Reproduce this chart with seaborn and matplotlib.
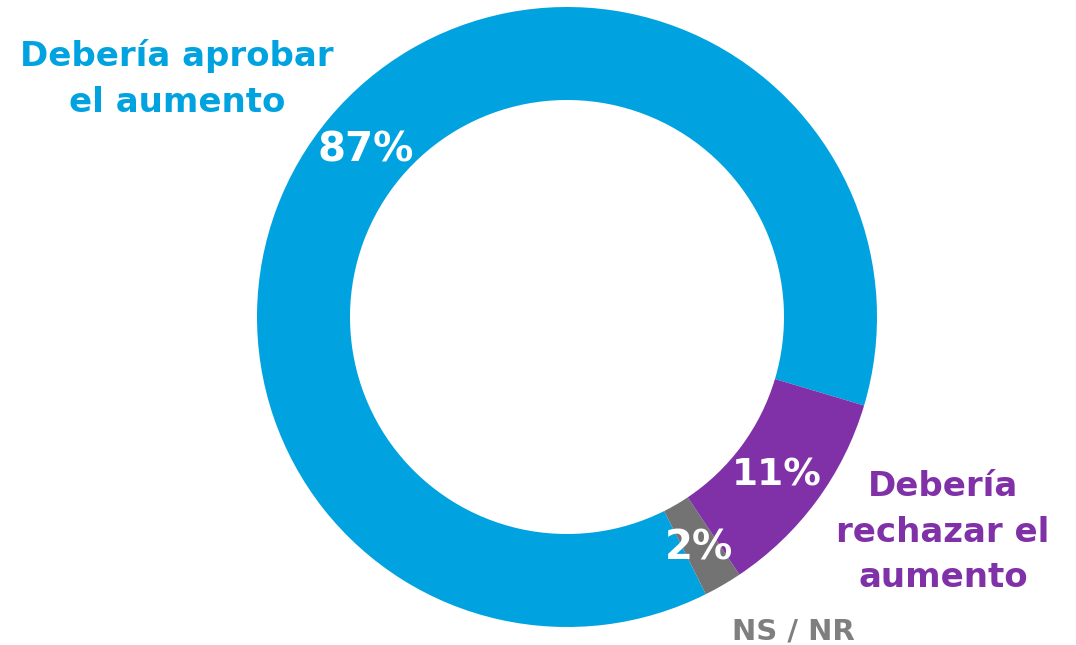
import matplotlib
matplotlib.use("Agg")
import matplotlib.pyplot as plt
import seaborn as sns

categories = ["Debería aprobar\nel aumento", "NS / NR", "Debería\nrechazar el\naumento"]
values = [87, 2, 11]
pct_labels = ["87%", "2%", "11%"]
colors = ["#00A3E0", "#737373", "#8031A7"]
label_colors = ["#00A3E0", "#7F7F7F", "#8031A7"]

sns.set_theme(style="white")
plt.rcParams['font.family'] = ['DejaVu Sans']

W, H = 1076, 645
fig = plt.figure(figsize=(W / 100, H / 100), dpi=100)
ax = fig.add_axes([0, 0, 1, 1])
ax.set_xlim(0, W)
ax.set_ylim(0, H)
ax.set_aspect("equal")
ax.axis("off")

cx, cy, R = 567, H - 317, 310
ax.pie(values, colors=colors, startangle=-16.6, counterclock=True,
       radius=R, center=(cx, cy), frame=True,
       wedgeprops=dict(width=R * 0.30, linewidth=0))
ax.set_xlim(0, W)
ax.set_ylim(0, H)
ax.axis("off")

# percent labels (pixel positions from top)
pct_pos = [(366, 151), (699, 549), (777, 476)]
pct_sizes = [29, 29, 27]
for (x, y), t, s in zip(pct_pos, pct_labels, pct_sizes):
    ax.text(x, H - y, t, color="white", fontsize=s, fontweight="bold",
            ha="center", va="center")

# category labels
cat_pos = [(177, 79), (793, 632), (943, 532)]
cat_sizes = [24.5, 21, 24.5]
for (x, y), t, c, s in zip(cat_pos, categories, label_colors, cat_sizes):
    ax.text(x, H - y, t, color=c, fontsize=s, fontweight="bold",
            ha="center", va="center", linespacing=1.48)

fig.savefig("out.png", dpi=100)
